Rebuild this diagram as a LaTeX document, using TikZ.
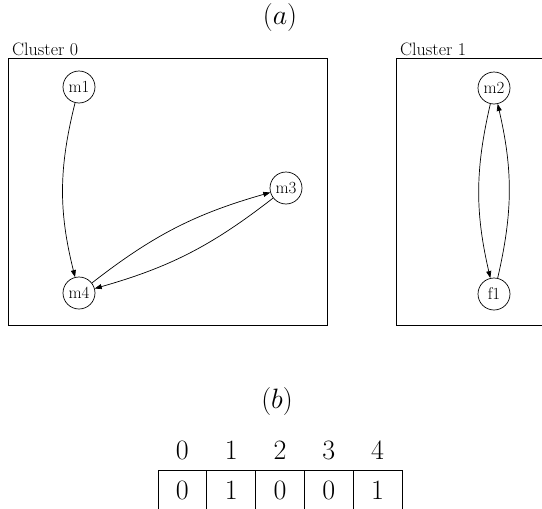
\RequirePackage{fix-cm}
\documentclass[tikz,border=0pt]{standalone}
\usetikzlibrary{arrows.meta}
\begin{document}
\begin{tikzpicture}[x=1pt,y=-1pt,
  vnode/.style={circle,draw,line width=0.7pt,minimum size=32pt,inner sep=0pt,font=\fontsize{17}{20}\selectfont},
  cluster/.style={draw,line width=0.8pt},
  clabel/.style={anchor=base west,inner sep=0pt,font=\fontsize{18}{21}\selectfont},
  edge/.style={line width=0.7pt,-{Triangle[length=7pt,width=5pt]}},
  big/.style={font=\fontsize{28}{31}\selectfont,inner sep=0pt},
  cell/.style={draw,line width=0.8pt,minimum width=48.8pt,minimum height=40pt,inner sep=0pt,font=\fontsize{28}{31}\selectfont}
]
\useasboundingbox (0,0) rectangle (542,509);
% title (a)
\node[big] (ta) at (280,17) {$(a)$};
% clusters
\draw[cluster] (8,58) rectangle (327,325);
\node[clabel] (l0) at (12,55) {Cluster 0};
\draw[cluster] (396,58) rectangle (560,325);
\node[clabel] (l1) at (400,55) {Cluster 1};
% nodes
\node[vnode] (m1) at (79,87) {m1};
\node[vnode] (m4) at (79,293) {m4};
\node[vnode] (m3) at (286,188) {m3};
\node[vnode] (m2) at (494,88) {m2};
\node[vnode] (f1) at (494,294) {f1};
% edges
\draw[edge] (m1) to[bend right=14] (m4);
\draw[edge] (m4) to[bend left=11] (m3);
\draw[edge] (m3) to[bend left=11] (m4);
\draw[edge] (m2) to[bend right=13] (f1);
\draw[edge] (f1) to[bend right=13] (m2);
% (b)
\node[big] (tb) at (277,401) {$(b)$};
\foreach \i/\v in {0/0,1/1,2/0,3/0,4/1}{
  \node[big] (h\i) at ({182.4+48.8*\i},450) {\i};
  \node[cell] (c\i) at ({182.4+48.8*\i},490) {\v};
}
\end{tikzpicture}
\end{document}
